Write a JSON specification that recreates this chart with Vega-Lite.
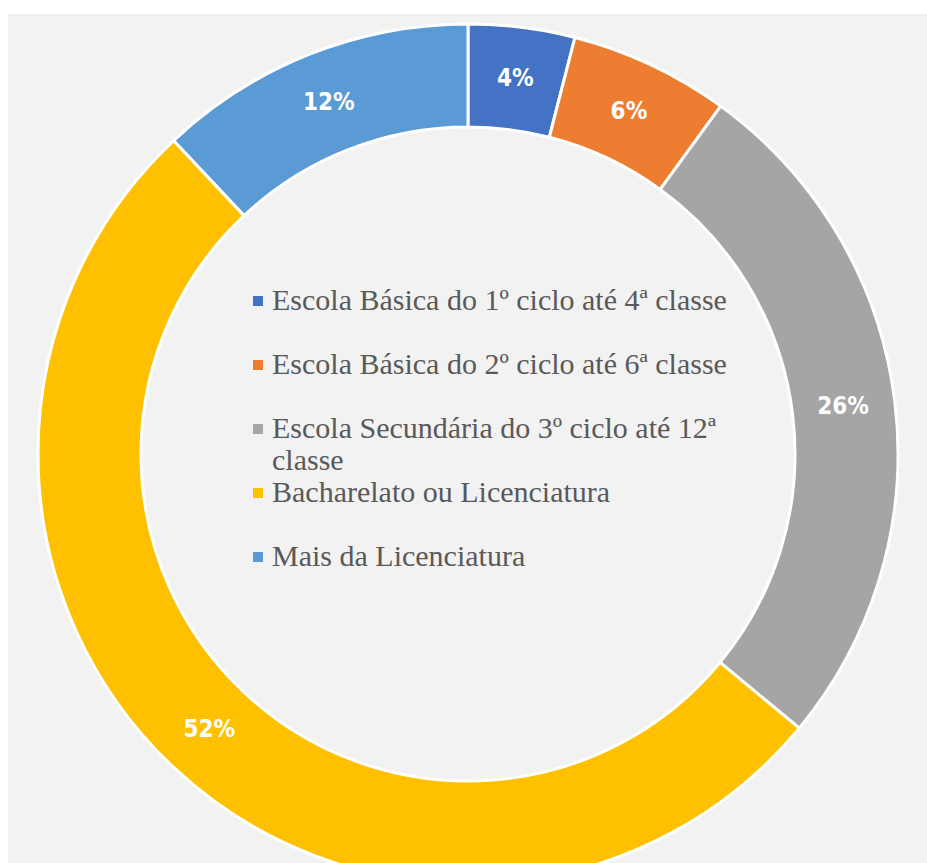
{
  "$schema": "https://vega.github.io/schema/vega-lite/v6.json",
  "width": 920,
  "height": 880,
  "autosize": {"type": "none"},
  "padding": {"left": 8, "top": 14, "right": -1, "bottom": -31},
  "background": "#ffffff",
  "view": {"fill": "#f2f2f2", "stroke": null},
  "config": {"view": {"fill": "#f2f2f2", "stroke": null}},
  "data": {
    "values": [
      {"nivel": "Escola Básica do 1º ciclo até 4ª classe", "pct": 4, "rotulo": "4%", "ord": 1},
      {"nivel": "Escola Básica do 2º ciclo até 6ª classe", "pct": 6, "rotulo": "6%", "ord": 2},
      {"nivel": "Escola Secundária do 3º ciclo até 12ª classe", "pct": 26, "rotulo": "26%", "ord": 3},
      {"nivel": "Bacharelato ou Licenciatura", "pct": 52, "rotulo": "52%", "ord": 4},
      {"nivel": "Mais da Licenciatura", "pct": 12, "rotulo": "12%", "ord": 5}
    ]
  },
  "encoding": {
    "theta": {"field": "pct", "type": "quantitative", "stack": true},
    "order": {"field": "ord", "type": "quantitative"}
  },
  "layer": [
    {
      "mark": {"type": "arc", "outerRadius": 430, "innerRadius": 327, "stroke": "#ffffff", "strokeWidth": 3},
      "encoding": {
        "color": {
          "field": "nivel",
          "type": "nominal",
          "scale": {
            "domain": [
              "Escola Básica do 1º ciclo até 4ª classe",
              "Escola Básica do 2º ciclo até 6ª classe",
              "Escola Secundária do 3º ciclo até 12ª classe",
              "Bacharelato ou Licenciatura",
              "Mais da Licenciatura"
            ],
            "range": ["#4472C4", "#ED7D31", "#A5A5A5", "#FFC000", "#5B9BD5"]
          },
          "legend": {
            "orient": "none",
            "legendX": 235,
            "legendY": 272,
            "title": null,
            "padding": 0,
            "symbolType": "square",
            "symbolSize": 100,
            "symbolStrokeWidth": 0,
            "labelFont": "Liberation Serif",
            "labelFontSize": 30,
            "labelColor": "#595959",
            "labelOffset": -1,
            "labelLimit": 600,
            "gridAlign": "all",
            "rowPadding": 2,
            "labelExpr": "datum.label == 'Escola Secundária do 3º ciclo até 12ª classe' ? ['Escola Secundária do 3º ciclo até 12ª', 'classe'] : datum.label"
          }
        }
      }
    },
    {
      "mark": {"type": "text", "radius": 378, "font": "DejaVu Sans Condensed", "fontWeight": "bold", "fontSize": 24, "fill": "#ffffff"},
      "encoding": {
        "text": {"field": "rotulo", "type": "nominal"},
        "detail": {"field": "nivel"}
      }
    }
  ]
}
